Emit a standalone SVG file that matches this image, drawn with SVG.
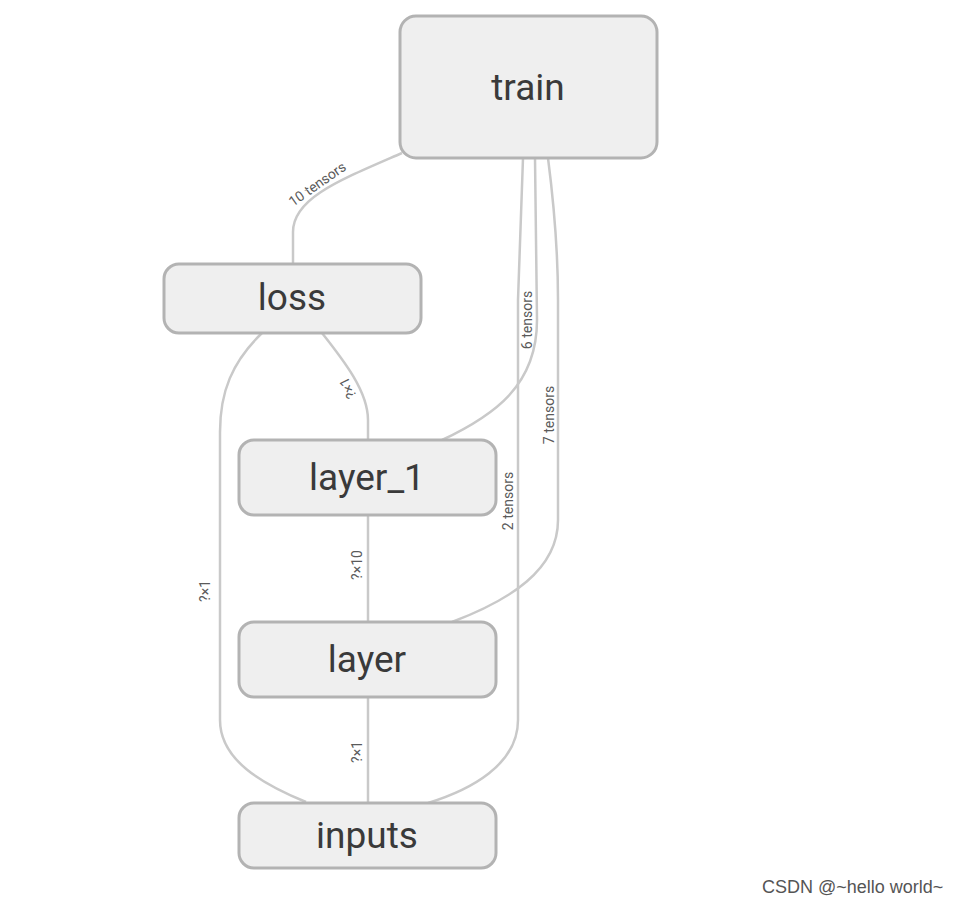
<svg xmlns="http://www.w3.org/2000/svg" width="960" height="904" viewBox="0 0 960 904">
<style>
.node rect{fill:#efefef;stroke:#b3b3b3;stroke-width:3}
.node text{font-family:Roboto,"Liberation Sans",sans-serif;font-size:37px;fill:#3a3a3a;text-anchor:middle;dominant-baseline:central}
.edges path{fill:none;stroke:#c9c9c9;stroke-width:2.5}
.lbl{font-family:Roboto,"Liberation Sans",sans-serif;font-size:14px;fill:#5a5a5a;text-anchor:middle}
.wm{font-family:"Liberation Sans",Arial,sans-serif;font-size:18px;fill:#555}
</style>
<rect width="960" height="904" fill="#fff"/>
<g class="edges" id="edges">
<path d="M402,153 C340,180 293,198 293,232 L293,264"/>
<path d="M322,333 C345,362 368,392 368,420 L368,440"/>
<path d="M262,333 C232,362 220,392 220,432 L220,720 C220,760 262,784 306,802"/>
<path d="M368,515 L368,622"/>
<path d="M368,697 L368,803"/>
<path d="M535,158 L537,320 C537,385 495,415 442,440"/>
<path d="M523,158 L518,300 L518,720 C518,765 470,790 428,803"/>
<path d="M548,158 C556,220 558,260 558,300 L558,520 C558,570 510,600 452,622"/>
<text class="lbl" transform="translate(320,188) rotate(-35)">10 tensors</text>
<text class="lbl" transform="translate(352,386) rotate(-116)">?×1</text>
<text class="lbl" transform="translate(210,591) rotate(-90)">?×1</text>
<text class="lbl" transform="translate(362,565) rotate(-90)">?×10</text>
<text class="lbl" transform="translate(362,752) rotate(-90)">?×1</text>
<text class="lbl" transform="translate(532,320) rotate(-90)">6 tensors</text>
<text class="lbl" transform="translate(513,501) rotate(-90)">2 tensors</text>
<text class="lbl" transform="translate(554,415) rotate(-90)">7 tensors</text>
</g>
<g class="node" id="train"><rect x="400" y="16" width="257" height="142" rx="16"/><text x="528" y="87">train</text></g>
<g class="node" id="loss"><rect x="164" y="264" width="257" height="69" rx="15"/><text x="292" y="297">loss</text></g>
<g class="node" id="layer_1"><rect x="239" y="440" width="257" height="75" rx="15"/><text x="367" y="477">layer_1</text></g>
<g class="node" id="layer"><rect x="239" y="622" width="257" height="75" rx="15"/><text x="367" y="659">layer</text></g>
<g class="node" id="inputs"><rect x="239" y="803" width="257" height="65" rx="15"/><text x="367" y="835">inputs</text></g>
<text class="wm" x="762" y="893">CSDN @~hello world~</text>
</svg>
